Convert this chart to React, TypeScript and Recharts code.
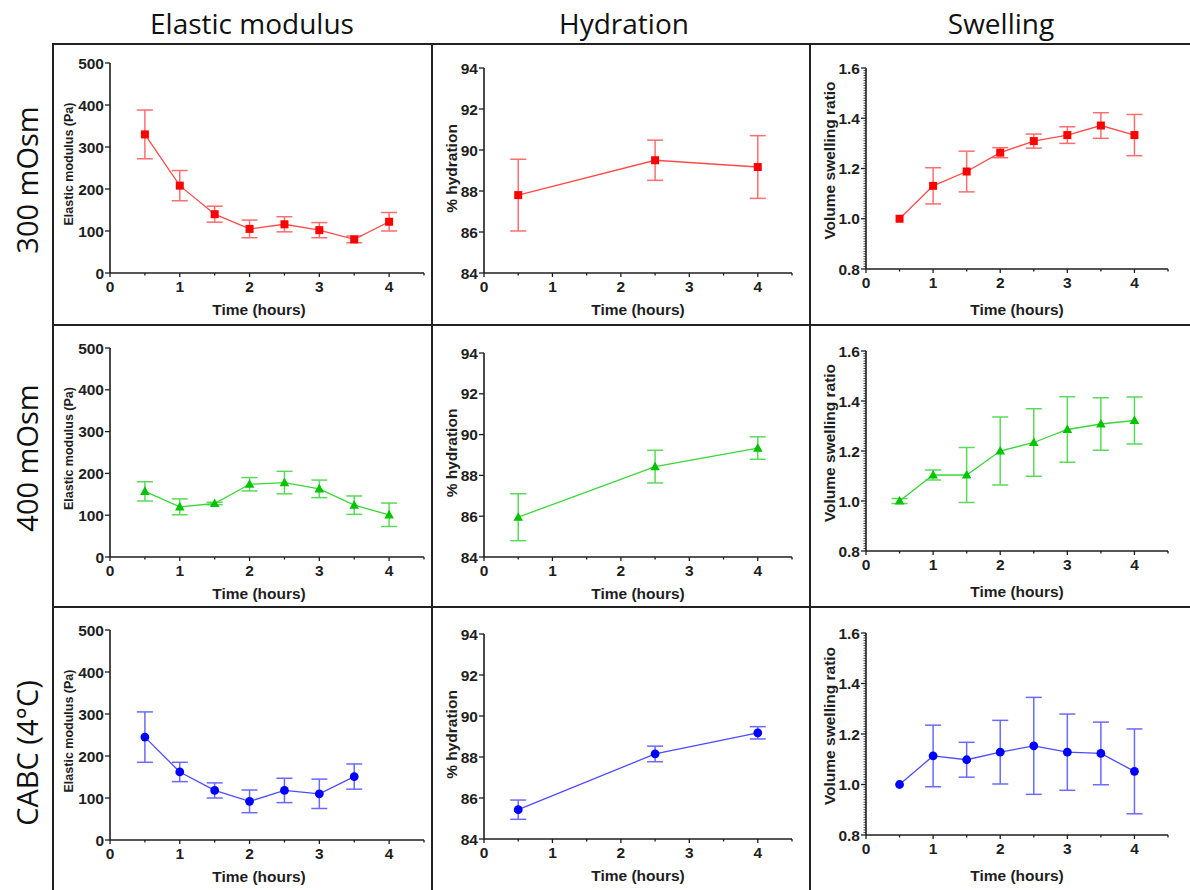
import React from "react";
import { LineChart, Line, XAxis, YAxis, ErrorBar } from "recharts";

// time points (hours)
const hoursAll = [0.5, 1, 1.5, 2, 2.5, 3, 3.5, 4];
const hoursModulusCabc = [0.5, 1, 1.5, 2, 2.5, 3, 3.5];
const hoursHydration = [0.5, 2.5, 4];

// elastic modulus (Pa), mean and error
const modulus300 = [330, 208, 140, 105, 116, 102, 80, 122];
const modulus300Err = [58, 36, 19, 21, 18, 18, 8, 22];
const modulus400 = [157, 120, 128, 174, 178, 163, 124, 101];
const modulus400Err = [23, 19, 3, 16, 27, 21, 22, 28];
const modulusCabc = [245, 162, 118, 92, 118, 110, 151];
const modulusCabcErr = [60, 23, 18, 27, 29, 35, 30];

// % hydration
const hydration300 = [87.8, 89.5, 89.17];
const hydration300Err = [1.75, 0.98, 1.53];
const hydration400 = [85.95, 88.43, 89.34];
const hydration400Err = [1.15, 0.8, 0.55];
const hydrationCabc = [85.43, 88.15, 89.18];
const hydrationCabcErr = [0.47, 0.38, 0.3];

// volume swelling ratio
const swelling300 = [1.0, 1.131, 1.188, 1.263, 1.309, 1.333, 1.371, 1.333];
const swelling300Err = [0, 0.072, 0.081, 0.02, 0.028, 0.033, 0.051, 0.082];
const swelling400 = [1.0, 1.104, 1.104, 1.2, 1.234, 1.286, 1.308, 1.322];
const swelling400Err = [0.01, 0.02, 0.11, 0.136, 0.135, 0.131, 0.105, 0.094];
const swellingCabc = [1.0, 1.113, 1.098, 1.128, 1.153, 1.128, 1.123, 1.052];
const swellingCabcErr = [0, 0.122, 0.069, 0.126, 0.192, 0.151, 0.124, 0.168];

// axes
const xTicks = [0, 0.5, 1, 1.5, 2, 2.5, 3, 3.5, 4, 4.5];
const xTickLabels = [0, 1, 2, 3, 4];
const modulusTicks = [0, 100, 200, 300, 400, 500];
const hydrationTicks = [84, 86, 88, 90, 92, 94];
const swellingTicks = [0.8, 1.0, 1.2, 1.4, 1.6];
const swellingMinorStep = 0.01;

const columnTitles = ["Elastic modulus", "Hydration", "Swelling"];
const rowTitles = ["300 mOsm", "400 mOsm", "CABC (4°C)"];

const palette: Record<string, { mark: string; line: string; err: string }> = {
  red: { mark: "#ff0000", line: "#ff4a4a", err: "#ff6e6e" },
  green: { mark: "#00c400", line: "#38d838", err: "#5ada5a" },
  blue: { mark: "#0000ff", line: "#4c4cff", err: "#6a6aff" },
};

const AXIS = "#1e1e1e";
const TICK_FONT = "'Liberation Sans', Arial, sans-serif";
const TICK_SIZE = 15.5;

const zip = (t: number[], v: number[], e: number[]) =>
  t.map((x, i) => ({ t: x, v: v[i], e: e[i] }));

function Marker({ cx, cy, shape, fill }: any) {
  if (cx == null || cy == null) return null;
  if (shape === "square") return <rect x={cx - 4} y={cy - 4} width={8} height={8} fill={fill} />;
  if (shape === "triangle")
    return <polygon points={`${cx},${cy - 5} ${cx + 4.8},${cy + 3.6} ${cx - 4.8},${cy + 3.6}`} fill={fill} />;
  return <circle cx={cx} cy={cy} r={4.4} fill={fill} />;
}

function XTick({ x, y, payload }: any) {
  const v = payload.value;
  const major = xTickLabels.includes(v);
  const axisY = y - 8;
  return (
    <g>
      <line x1={x} x2={x} y1={axisY} y2={axisY + (major ? 4 : 2.5)} stroke={AXIS} strokeWidth={1.3} />
      {major && (
        <text x={x} y={y} dy="0.71em" textAnchor="middle" fontFamily={TICK_FONT} fontWeight={700} fontSize={TICK_SIZE} fill={AXIS}>
          {v}
        </text>
      )}
    </g>
  );
}

function YTick({ x, y, payload, majors, digits }: any) {
  const v = payload.value;
  const major = majors.some((m: number) => Math.abs(m - v) < 1e-6);
  const axisX = x + 6;
  return (
    <g>
      <line x1={axisX - (major ? 5 : 2.5)} x2={axisX} y1={y} y2={y} stroke={AXIS} strokeWidth={major ? 1.3 : 0.8} />
      {major && (
        <text x={axisX - 6} y={y} dy="0.36em" textAnchor="end" fontFamily={TICK_FONT} fontWeight={700} fontSize={TICK_SIZE} fill={AXIS}>
          {v.toFixed(digits)}
        </text>
      )}
    </g>
  );
}

type Box = { left: number; right: number; top: number; bottom: number; pl: number; pr: number; pt: number; pb: number };

function Panel({
  box, data, domain, ticks, majors, digits, yLabel, yLabelSize, yLabelX, yLabelShift, titleDx, titleDy, color, shape,
}: any) {
  const b: Box = box;
  const w = b.right - b.left;
  const h = b.bottom - b.top;
  const c = palette[color];
  const midX = (b.pl + b.pr) / 2 - b.left + titleDx;
  const midY = (b.pt + b.pb) / 2 - b.top + yLabelShift;
  return (
    <div style={{ position: "absolute", left: b.left, top: b.top, width: w, height: h }}>
      <LineChart
        width={w}
        height={h}
        data={data}
        margin={{ top: b.pt - b.top, right: b.right - b.pr, left: 0, bottom: 0 }}
      >
        <XAxis
          type="number"
          dataKey="t"
          domain={[0, 4.5]}
          ticks={xTicks}
          interval={0}
          height={b.bottom - b.pb}
          tickSize={4}
          tickMargin={4}
          tickLine={false}
          axisLine={{ stroke: AXIS, strokeWidth: 1.6 }}
          tick={<XTick />}
          label={() => (
            <text x={midX} y={b.pb - b.top + titleDy} dy="0.36em" textAnchor="middle" fontFamily={TICK_FONT} fontWeight={700} fontSize={15.5} fill={AXIS}>
              Time (hours)
            </text>
          )}
        />
        <YAxis
          type="number"
          domain={domain}
          ticks={ticks}
          interval={0}
          width={b.pl - b.left}
          tickSize={5}
          tickMargin={1}
          tickLine={false}
          axisLine={{ stroke: AXIS, strokeWidth: 1.6 }}
          tick={<YTick majors={majors} digits={digits} />}
          label={() => (
            <text
              transform={`translate(${yLabelX - b.left},${midY}) rotate(-90)`}
              textAnchor="middle"
              dy="0.36em"
              fontFamily={TICK_FONT}
              fontWeight={700}
              fontSize={yLabelSize}
              fill={AXIS}
            >
              {yLabel}
            </text>
          )}
        />
        <Line
          type="linear"
          dataKey="v"
          stroke={c.line}
          strokeWidth={1.3}
          isAnimationActive={false}
          activeDot={false}
          dot={(p: any) => <Marker key={`m-${p.index}`} cx={p.cx} cy={p.cy} shape={shape} fill={c.mark} />}
        >
          <ErrorBar dataKey="e" direction="y" width={8} stroke={c.err} strokeWidth={1.5} isAnimationActive={false} />
        </Line>
      </LineChart>
    </div>
  );
}

const cols = [
  { left: 53, right: 432, pl: 110, pr: 424 },
  { left: 432, right: 810, pl: 484, pr: 792 },
  { left: 810, right: 1190, pl: 866, pr: 1168 },
];
const rows = [
  { top: 44, bottom: 325, plot: [[63, 273], [68, 273], [68, 269]] },
  { top: 325, bottom: 607, plot: [[348, 557], [353, 557], [351, 551]] },
  { top: 607, bottom: 890, plot: [[630, 840], [634, 839], [633, 835]] },
];

const swellingMinorTicks = (() => {
  const out: number[] = [];
  const n = Math.round((1.6 - 0.8) / swellingMinorStep);
  for (let i = 0; i <= n; i++) out.push(Math.round((0.8 + i * swellingMinorStep) * 100) / 100);
  return out;
})();

const columnAxes = [
  { domain: [0, 500], ticks: modulusTicks, majors: modulusTicks, digits: 0, yLabel: "Elastic modulus (Pa)", yLabelSize: 12.5, yLabelX: 68, yLabelShift: -4, titleDx: -8, titleDy: 36 },
  { domain: [84, 94], ticks: hydrationTicks, majors: hydrationTicks, digits: 0, yLabel: "% hydration", yLabelSize: 15.5, yLabelX: 451, yLabelShift: -2, titleDx: 0, titleDy: 36 },
  { domain: [0.8, 1.6], ticks: swellingMinorTicks, majors: swellingTicks, digits: 1, yLabel: "Volume swelling ratio", yLabelSize: 15.5, yLabelX: 829, yLabelShift: -8, titleDx: 0, titleDy: 40 },
];

const panelData = [
  [zip(hoursAll, modulus300, modulus300Err), zip(hoursHydration, hydration300, hydration300Err), zip(hoursAll, swelling300, swelling300Err)],
  [zip(hoursAll, modulus400, modulus400Err), zip(hoursHydration, hydration400, hydration400Err), zip(hoursAll, swelling400, swelling400Err)],
  [zip(hoursModulusCabc, modulusCabc, modulusCabcErr), zip(hoursHydration, hydrationCabc, hydrationCabcErr), zip(hoursAll, swellingCabc, swellingCabcErr)],
];
const rowStyles = [
  { color: "red", shape: "square" },
  { color: "green", shape: "triangle" },
  { color: "blue", shape: "circle" },
];

const titleCenters = [252, 624, 1001];
const rowCenters = [180, 458, 753];

export default function App() {
  const lineStyle = { position: "absolute" as const, background: "#222" };
  return (
    <div style={{ position: "absolute", left: 0, top: 0, width: 1190, height: 890, background: "#fff", overflow: "hidden" }}>
      {columnTitles.map((t, i) => (
        <div
          key={t}
          style={{
            position: "absolute", left: titleCenters[i] - 150, top: 4, width: 300, height: 38, lineHeight: "38px",
            textAlign: "center", fontFamily: "'Open Sans', sans-serif", fontSize: 28, color: "#111",
          }}
        >
          {t}
        </div>
      ))}
      {rowTitles.map((t, i) => (
        <div
          key={t}
          style={{
            position: "absolute", left: 27 - 110, top: rowCenters[i] - 20, width: 220, height: 40, lineHeight: "40px",
            textAlign: "center", fontFamily: "'Open Sans', sans-serif", fontSize: 29, color: "#111",
            transform: "rotate(-90deg)",
          }}
        >
          {t}
        </div>
      ))}
      {rows.map((r, ri) =>
        cols.map((c, ci) => (
          <Panel
            key={`${ri}-${ci}`}
            box={{ left: c.left, right: c.right, top: r.top, bottom: r.bottom, pl: c.pl, pr: c.pr, pt: r.plot[ci][0], pb: r.plot[ci][1] }}
            data={panelData[ri][ci]}
            {...columnAxes[ci]}
            {...rowStyles[ri]}
          />
        ))
      )}
      {/* panel frame */}
      <div style={{ ...lineStyle, left: 52, top: 43, width: 1138, height: 2 }} />
      <div style={{ ...lineStyle, left: 52, top: 324, width: 1138, height: 2 }} />
      <div style={{ ...lineStyle, left: 52, top: 606, width: 1138, height: 2 }} />
      <div style={{ ...lineStyle, left: 52, top: 43, width: 2, height: 847 }} />
      <div style={{ ...lineStyle, left: 431, top: 43, width: 2, height: 847 }} />
      <div style={{ ...lineStyle, left: 809, top: 43, width: 2, height: 847 }} />
    </div>
  );
}
